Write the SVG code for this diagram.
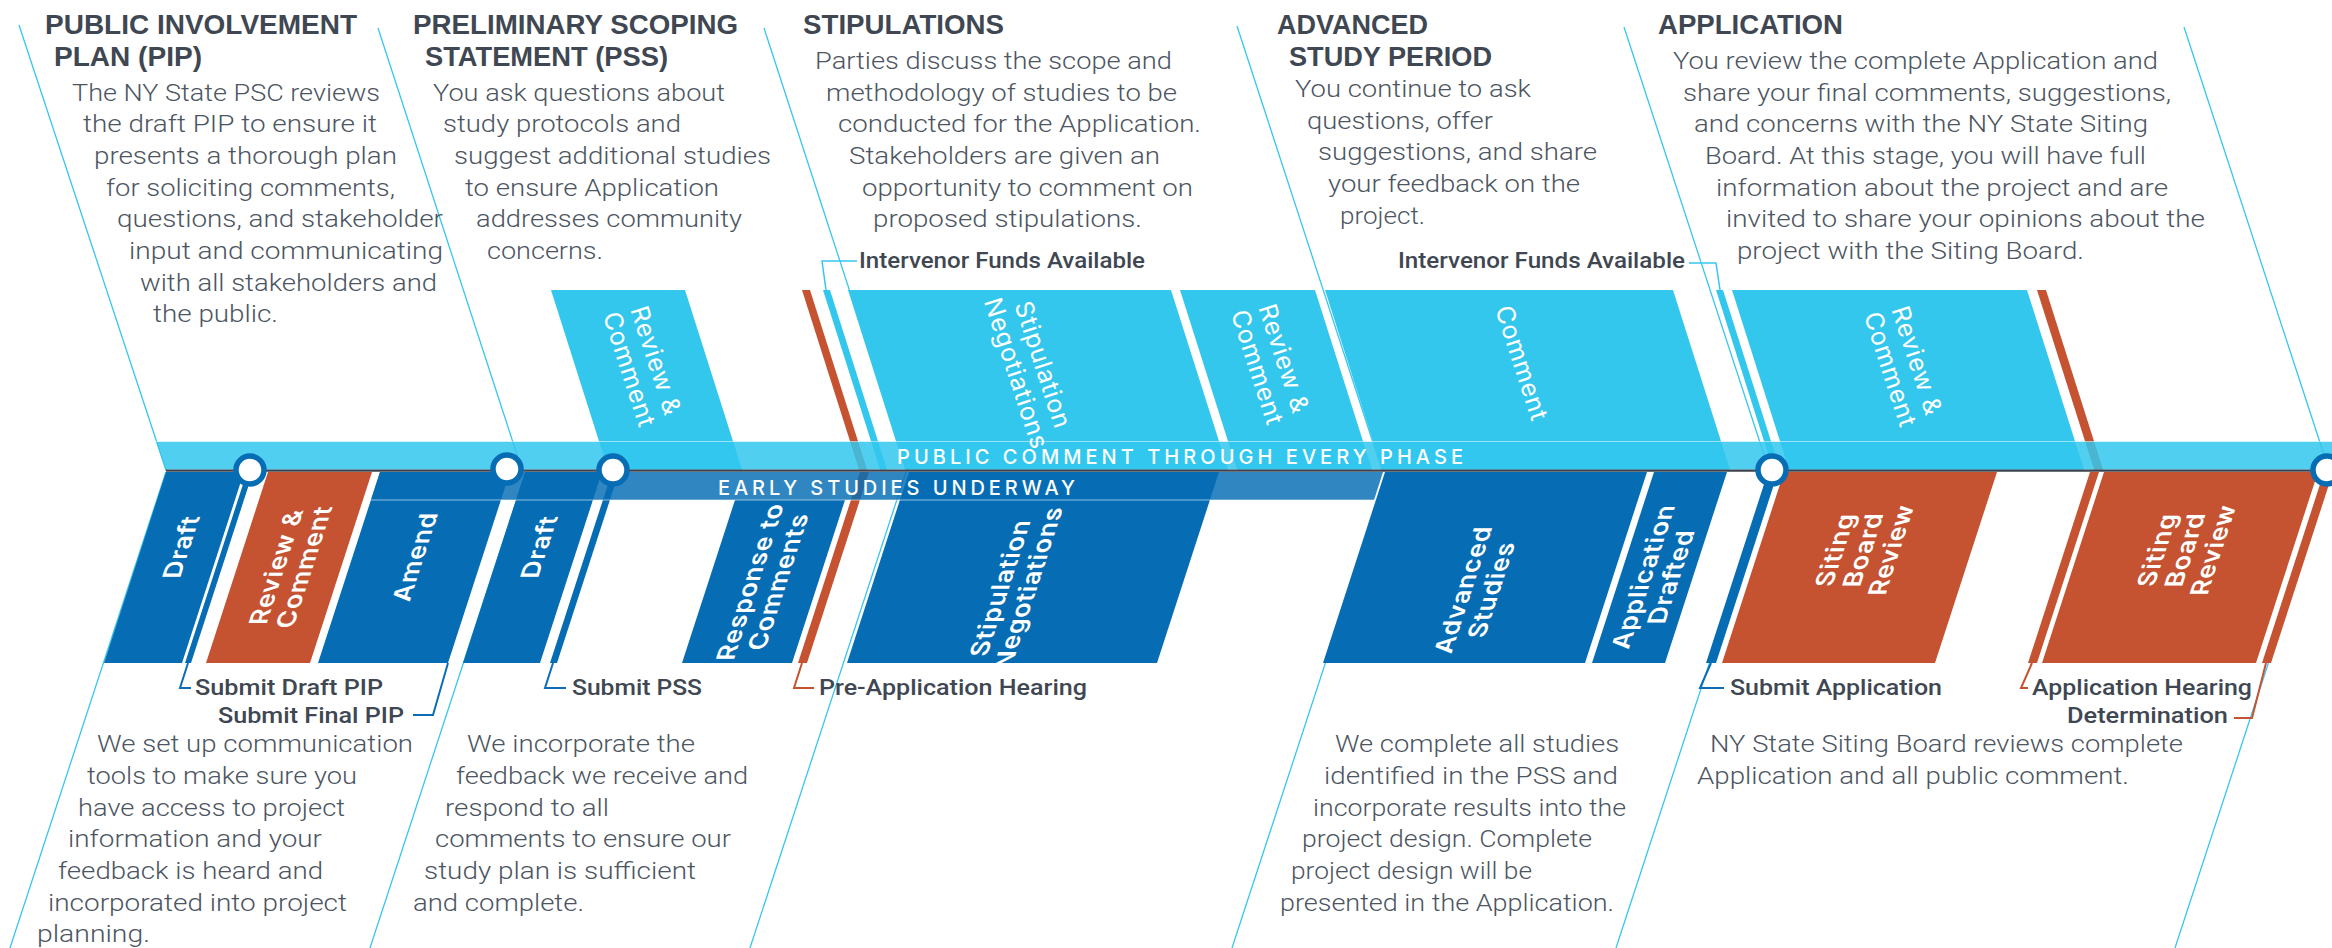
<svg xmlns="http://www.w3.org/2000/svg" width="2332" height="948" viewBox="0 0 2332 948">
<defs>
<style>
.bg{fill:#ffffff}
.ln{stroke:#38c6ee;stroke-width:1.3;fill:none}
.cy{fill:#33c7ed}
.db{fill:#066db5}
.or{fill:#c55331}
.cb{stroke:#0b6db5;stroke-width:2;fill:none}
.co{stroke:#c55331;stroke-width:2;fill:none}
.cc{stroke:#38c6ee;stroke-width:1.5;fill:none}
.h{font-family:'Liberation Sans',Arial,sans-serif;font-weight:700;font-size:27px;fill:#3f4752}
.t{font-family:Roboto,'Open Sans','Liberation Sans',sans-serif;font-weight:300;font-size:24px;fill:#4c5561}
.lb{font-family:Roboto,'Liberation Sans',sans-serif;font-weight:500;font-size:22px;fill:#3f4752}
.bt{font-family:Inter,'DejaVu Sans',sans-serif;font-size:25px;letter-spacing:0.7px;fill:#ffffff;text-anchor:middle}
.bl{font-weight:600}
.band{font-family:Inter,'DejaVu Sans',sans-serif;font-size:20px;font-weight:500;fill:#ffffff}
.ring{fill:#ffffff;stroke:#066db5;stroke-width:5.5}
</style>
</defs>
<rect class="bg" x="0" y="0" width="2332" height="948"/>

<g id="phase-lines">
<line class="ln" x1="19" y1="25" x2="166" y2="470"/>
<line class="ln" x1="378" y1="28" x2="522" y2="470"/>
<line class="ln" x1="764" y1="28" x2="908" y2="470"/>
<line class="ln" x1="1237" y1="26" x2="1382" y2="470"/>
<line class="ln" x1="1624" y1="27" x2="1769" y2="470"/>
<line class="ln" x1="2184" y1="27" x2="2329" y2="470"/>
<line class="ln" x1="166" y1="472" x2="10" y2="948"/>
<line class="ln" x1="526" y1="472" x2="370" y2="948"/>
<line class="ln" x1="906" y1="472" x2="750" y2="948"/>
<line class="ln" x1="1388" y1="472" x2="1232" y2="948"/>
<line class="ln" x1="1772" y1="472" x2="1616" y2="948"/>
<line class="ln" x1="2331" y1="472" x2="2175" y2="948"/>
</g>

<g id="upper-blocks">
<g id="pss-review-comment"><polygon class="cy" points="551,290 685,290 742,469.5 608,469.5"/></g>
<g id="stip-negotiations-up"><polygon class="cy" points="848,290 1171,290 1228,469.5 905,469.5"/></g>
<g id="stip-review-comment"><polygon class="cy" points="1180,290 1315,290 1372,469.5 1237,469.5"/></g>
<g id="adv-comment"><polygon class="cy" points="1325,290 1673,290 1730,469.5 1382,469.5"/></g>
<g id="app-review-comment"><polygon class="cy" points="1732,290 2027,290 2084,469.5 1789,469.5"/></g>
<g id="preapp-stripe-up"><polygon class="or" points="802,290 810,290 867,469.5 859,469.5"/></g>
<g id="intervenor1-stripe"><polygon class="cy" points="823,290 830,290 887,469.5 880,469.5"/></g>
<g id="intervenor2-stripe"><polygon class="cy" points="1716,290 1723,290 1780,469.5 1773,469.5"/></g>
<g id="apphearing-stripe-up"><polygon class="or" points="2037,290 2046,290 2103,469.5 2094,469.5"/></g>
</g>

<g id="lower-blocks">
<g id="pip-draft"><polygon class="db" points="166,472 244,472 182,663 104,663"/></g>
<g id="pip-submit-stripe"><polygon class="db" points="247,472 253,472 191,663 185,663"/></g>
<g id="pip-review"><polygon class="or" points="268,472 372,472 310,663 206,663"/></g>
<g id="pip-amend"><polygon class="db" points="380,472 510,472 448,663 318,663"/></g>
<g id="pss-draft"><polygon class="db" points="525,472 602,472 540,663 463,663"/></g>
<g id="pss-submit-stripe"><polygon class="db" points="612,472 619,472 557,663 550,663"/></g>
<g id="pss-response"><polygon class="db" points="735,500 845,500 792,663 682,663"/></g>
<g id="preapp-stripe-low"><polygon class="or" points="860,472 869,472 807,663 798,663"/></g>
<g id="stip-negotiations-low"><polygon class="db" points="909,472 1219,472 1157,663 847,663"/></g>
<g id="adv-studies"><polygon class="db" points="1385,472 1647,472 1585,663 1323,663"/></g>
<g id="app-drafted"><polygon class="db" points="1654,472 1727,472 1665,663 1592,663"/></g>
<g id="app-submit-stripe"><polygon class="db" points="1768,472 1778,472 1716,663 1706,663"/></g>
<g id="siting-review-1"><polygon class="or" points="1784,472 1997,472 1935,663 1722,663"/></g>
<g id="apphearing-stripe-low"><polygon class="or" points="2090,472 2099,472 2037,663 2028,663"/></g>
<g id="siting-review-2"><polygon class="or" points="2104,472 2318,472 2256,663 2042,663"/></g>
<g id="determination-stripe"><polygon class="or" points="2324,472 2333,472 2271,663 2262,663"/></g>
</g>

<g id="public-comment-band">
<polygon fill="#33c7ed" fill-opacity="0.85" points="156,441.5 2332,441.5 2332,469.5 165.5,469.5"/>
<line x1="156" y1="441.5" x2="2332" y2="441.5" stroke="#ffffff" stroke-opacity="0.5" stroke-width="1"/>
<polygon fill="#3b4450" points="165.5,469.5 2332,469.5 2332,471.8 166.2,471.8"/>
<text class="band" x="897" y="464" textLength="566" lengthAdjust="spacing">PUBLIC COMMENT THROUGH EVERY PHASE</text>
</g>

<g id="early-studies-band">
<polygon fill="#066db5" fill-opacity="0.83" points="380,472 1383,472 1374,500 371,500"/>
<line x1="371" y1="500" x2="1374" y2="500" stroke="#ffffff" stroke-opacity="0.55" stroke-width="1"/>
<text class="band" x="718" y="495" font-size="21" textLength="357" lengthAdjust="spacing">EARLY STUDIES UNDERWAY</text>
</g>

<g id="connectors">
<polyline class="cb" points="188,663 180,688 191,688"/>
<polyline class="cb" points="448,663 433,715 413,715"/>
<polyline class="cb" points="553,663 545,688 566,688"/>
<polyline class="co" points="802,663 794,688 814,688"/>
<polyline class="cb" points="1711,663 1700,688 1724,688"/>
<polyline class="co" points="2032,663 2021,688 2028,688"/>
<polyline class="co" points="2266,663 2252,718 2234,718"/>
<polyline class="cc" points="857,261 822,261 826,290"/>
<polyline class="cc" points="1689,263 1716,263 1720,290"/>
</g>

<g id="milestones">
<circle class="ring" cx="250" cy="470" r="14"/>
<circle class="ring" cx="507" cy="469" r="14"/>
<circle class="ring" cx="613" cy="470" r="14"/>
<circle class="ring" cx="1772" cy="470" r="14"/>
<circle class="ring" cx="2327" cy="470" r="14"/>
</g>

<g id="block-labels">
<text class="bt" transform="translate(643,365) rotate(72)"><tspan x="0" y="-5">Review &amp;</tspan><tspan x="0" y="23">Comment</tspan></text>
<text class="bt" transform="translate(1030,369) rotate(72)"><tspan x="0" y="-5">Stipulation</tspan><tspan x="0" y="23">Negotiations</tspan></text>
<text class="bt" transform="translate(1271,363) rotate(72)"><tspan x="0" y="-5">Review &amp;</tspan><tspan x="0" y="23">Comment</tspan></text>
<text class="bt" transform="translate(1522,363) rotate(72)"><tspan x="0" y="9">Comment</tspan></text>
<text class="bt" transform="translate(1904,365) rotate(72)"><tspan x="0" y="-5">Review &amp;</tspan><tspan x="0" y="23">Comment</tspan></text>

<text class="bt bl" transform="matrix(0.325,-1,1,0,181,547)"><tspan x="0" y="9">Draft</tspan></text>
<text class="bt bl" transform="matrix(0.325,-1,1,0,290,567)"><tspan x="0" y="-5">Review &amp;</tspan><tspan x="0" y="23">Comment</tspan></text>
<text class="bt bl" transform="matrix(0.325,-1,1,0,415,557)"><tspan x="0" y="9">Amend</tspan></text>
<text class="bt bl" transform="matrix(0.325,-1,1,0,539,547)"><tspan x="0" y="9">Draft</tspan></text>
<text class="bt bl" transform="matrix(0.325,-1,1,0,764,582)"><tspan x="0" y="-5">Response to</tspan><tspan x="0" y="23">Comments</tspan></text>
<text class="bt bl" transform="matrix(0.325,-1,1,0,1014,588)"><tspan x="0" y="-5">Stipulation</tspan><tspan x="0" y="23">Negotiations</tspan></text>
<text class="bt bl" transform="matrix(0.325,-1,1,0,1477,590)"><tspan x="0" y="-5">Advanced</tspan><tspan x="0" y="23">Studies</tspan></text>
<text class="bt bl" transform="matrix(0.325,-1,1,0,1657,577)"><tspan x="0" y="-5">Application</tspan><tspan x="0" y="23">Drafted</tspan></text>
<text class="bt bl" transform="matrix(0.325,-1,1,0,1863,550)"><tspan x="0" y="-19">Siting</tspan><tspan x="0" y="9">Board</tspan><tspan x="0" y="37">Review</tspan></text>
<text class="bt bl" transform="matrix(0.325,-1,1,0,2185,550)"><tspan x="0" y="-19">Siting</tspan><tspan x="0" y="9">Board</tspan><tspan x="0" y="37">Review</tspan></text>
</g>

<g id="milestone-labels">
<text class="lb" x="859" y="268" font-size="20" textLength="286" lengthAdjust="spacingAndGlyphs">Intervenor Funds Available</text>
<text class="lb" x="1398" y="268" font-size="20" textLength="287" lengthAdjust="spacingAndGlyphs">Intervenor Funds Available</text>
<text class="lb" x="195" y="695" textLength="188" lengthAdjust="spacingAndGlyphs">Submit Draft PIP</text>
<text class="lb" x="218" y="723" textLength="186" lengthAdjust="spacingAndGlyphs">Submit Final PIP</text>
<text class="lb" x="572" y="695" textLength="130" lengthAdjust="spacingAndGlyphs">Submit PSS</text>
<text class="lb" x="819" y="695" textLength="268" lengthAdjust="spacingAndGlyphs">Pre-Application Hearing</text>
<text class="lb" x="1730" y="695" textLength="212" lengthAdjust="spacingAndGlyphs">Submit Application</text>
<text class="lb" x="2032" y="695" textLength="220" lengthAdjust="spacingAndGlyphs">Application Hearing</text>
<text class="lb" x="2067" y="723" textLength="161" lengthAdjust="spacingAndGlyphs">Determination</text>
</g>

<g id="phase-pip">
<text class="h" x="45" y="34" textLength="312" lengthAdjust="spacingAndGlyphs">PUBLIC INVOLVEMENT</text>
<text class="h" x="54" y="66" textLength="148" lengthAdjust="spacingAndGlyphs">PLAN (PIP)</text>
<text class="t" x="72" y="100.5" textLength="308" lengthAdjust="spacingAndGlyphs">The NY State PSC reviews</text>
<text class="t" x="83" y="132" textLength="294" lengthAdjust="spacingAndGlyphs">the draft PIP to ensure it</text>
<text class="t" x="94" y="164" textLength="303" lengthAdjust="spacingAndGlyphs">presents a thorough plan</text>
<text class="t" x="106" y="196" textLength="289" lengthAdjust="spacingAndGlyphs">for soliciting comments,</text>
<text class="t" x="117" y="227" textLength="326" lengthAdjust="spacingAndGlyphs">questions, and stakeholder</text>
<text class="t" x="129" y="259" textLength="314" lengthAdjust="spacingAndGlyphs">input and communicating</text>
<text class="t" x="140" y="291" textLength="297" lengthAdjust="spacingAndGlyphs">with all stakeholders and</text>
<text class="t" x="153" y="322" textLength="125" lengthAdjust="spacingAndGlyphs">the public.</text>
<text class="t" x="97" y="752" textLength="316" lengthAdjust="spacingAndGlyphs">We set up communication</text>
<text class="t" x="87" y="784" textLength="270" lengthAdjust="spacingAndGlyphs">tools to make sure you</text>
<text class="t" x="78" y="816" textLength="267" lengthAdjust="spacingAndGlyphs">have access to project</text>
<text class="t" x="68" y="847" textLength="254" lengthAdjust="spacingAndGlyphs">information and your</text>
<text class="t" x="58" y="879" textLength="265" lengthAdjust="spacingAndGlyphs">feedback is heard and</text>
<text class="t" x="48" y="911" textLength="299" lengthAdjust="spacingAndGlyphs">incorporated into project</text>
<text class="t" x="37" y="942" textLength="113" lengthAdjust="spacingAndGlyphs">planning.</text>
</g>

<g id="phase-pss">
<text class="h" x="413" y="34" textLength="325" lengthAdjust="spacingAndGlyphs">PRELIMINARY SCOPING</text>
<text class="h" x="425" y="66" textLength="243" lengthAdjust="spacingAndGlyphs">STATEMENT (PSS)</text>
<text class="t" x="433" y="100.5" textLength="292" lengthAdjust="spacingAndGlyphs">You ask questions about</text>
<text class="t" x="443" y="132" textLength="238" lengthAdjust="spacingAndGlyphs">study protocols and</text>
<text class="t" x="454" y="164" textLength="317" lengthAdjust="spacingAndGlyphs">suggest additional studies</text>
<text class="t" x="465" y="196" textLength="254" lengthAdjust="spacingAndGlyphs">to ensure Application</text>
<text class="t" x="476" y="227" textLength="266" lengthAdjust="spacingAndGlyphs">addresses community</text>
<text class="t" x="487" y="259" textLength="116" lengthAdjust="spacingAndGlyphs">concerns.</text>
<text class="t" x="467" y="752" textLength="228" lengthAdjust="spacingAndGlyphs">We incorporate the</text>
<text class="t" x="456" y="784" textLength="292" lengthAdjust="spacingAndGlyphs">feedback we receive and</text>
<text class="t" x="445" y="816" textLength="164" lengthAdjust="spacingAndGlyphs">respond to all</text>
<text class="t" x="435" y="847" textLength="296" lengthAdjust="spacingAndGlyphs">comments to ensure our</text>
<text class="t" x="424" y="879" textLength="272" lengthAdjust="spacingAndGlyphs">study plan is sufficient</text>
<text class="t" x="413" y="911" textLength="171" lengthAdjust="spacingAndGlyphs">and complete.</text>
</g>

<g id="phase-stipulations">
<text class="h" x="803" y="34" textLength="201" lengthAdjust="spacingAndGlyphs">STIPULATIONS</text>
<text class="t" x="815" y="69" textLength="357" lengthAdjust="spacingAndGlyphs">Parties discuss the scope and</text>
<text class="t" x="826" y="100.5" textLength="351" lengthAdjust="spacingAndGlyphs">methodology of studies to be</text>
<text class="t" x="838" y="132" textLength="363" lengthAdjust="spacingAndGlyphs">conducted for the Application.</text>
<text class="t" x="849" y="164" textLength="311" lengthAdjust="spacingAndGlyphs">Stakeholders are given an</text>
<text class="t" x="862" y="196" textLength="331" lengthAdjust="spacingAndGlyphs">opportunity to comment on</text>
<text class="t" x="873" y="227" textLength="269" lengthAdjust="spacingAndGlyphs">proposed stipulations.</text>
</g>

<g id="phase-advanced">
<text class="h" x="1277" y="34" textLength="151" lengthAdjust="spacingAndGlyphs">ADVANCED</text>
<text class="h" x="1289" y="66" textLength="203" lengthAdjust="spacingAndGlyphs">STUDY PERIOD</text>
<text class="t" x="1295" y="97" textLength="236" lengthAdjust="spacingAndGlyphs">You continue to ask</text>
<text class="t" x="1307" y="128.5" textLength="186" lengthAdjust="spacingAndGlyphs">questions, offer</text>
<text class="t" x="1318" y="160" textLength="279" lengthAdjust="spacingAndGlyphs">suggestions, and share</text>
<text class="t" x="1328" y="192" textLength="252" lengthAdjust="spacingAndGlyphs">your feedback on the</text>
<text class="t" x="1340" y="223.5" textLength="85" lengthAdjust="spacingAndGlyphs">project.</text>
<text class="t" x="1335" y="752" textLength="284" lengthAdjust="spacingAndGlyphs">We complete all studies</text>
<text class="t" x="1324" y="784" textLength="294" lengthAdjust="spacingAndGlyphs">identified in the PSS and</text>
<text class="t" x="1313" y="816" textLength="313" lengthAdjust="spacingAndGlyphs">incorporate results into the</text>
<text class="t" x="1302" y="847" textLength="290" lengthAdjust="spacingAndGlyphs">project design. Complete</text>
<text class="t" x="1291" y="879" textLength="241" lengthAdjust="spacingAndGlyphs">project design will be</text>
<text class="t" x="1280" y="911" textLength="334" lengthAdjust="spacingAndGlyphs">presented in the Application.</text>
</g>

<g id="phase-application">
<text class="h" x="1658" y="34" textLength="185" lengthAdjust="spacingAndGlyphs">APPLICATION</text>
<text class="t" x="1673" y="69" textLength="485" lengthAdjust="spacingAndGlyphs">You review the complete Application and</text>
<text class="t" x="1683" y="100.5" textLength="488" lengthAdjust="spacingAndGlyphs">share your final comments, suggestions,</text>
<text class="t" x="1694" y="132" textLength="454" lengthAdjust="spacingAndGlyphs">and concerns with the NY State Siting</text>
<text class="t" x="1705" y="164" textLength="441" lengthAdjust="spacingAndGlyphs">Board. At this stage, you will have full</text>
<text class="t" x="1716" y="196" textLength="452" lengthAdjust="spacingAndGlyphs">information about the project and are</text>
<text class="t" x="1726" y="227" textLength="479" lengthAdjust="spacingAndGlyphs">invited to share your opinions about the</text>
<text class="t" x="1737" y="259" textLength="347" lengthAdjust="spacingAndGlyphs">project with the Siting Board.</text>
<text class="t" x="1710" y="752" textLength="473" lengthAdjust="spacingAndGlyphs">NY State Siting Board reviews complete</text>
<text class="t" x="1697" y="784" textLength="432" lengthAdjust="spacingAndGlyphs">Application and all public comment.</text>
</g>
</svg>
